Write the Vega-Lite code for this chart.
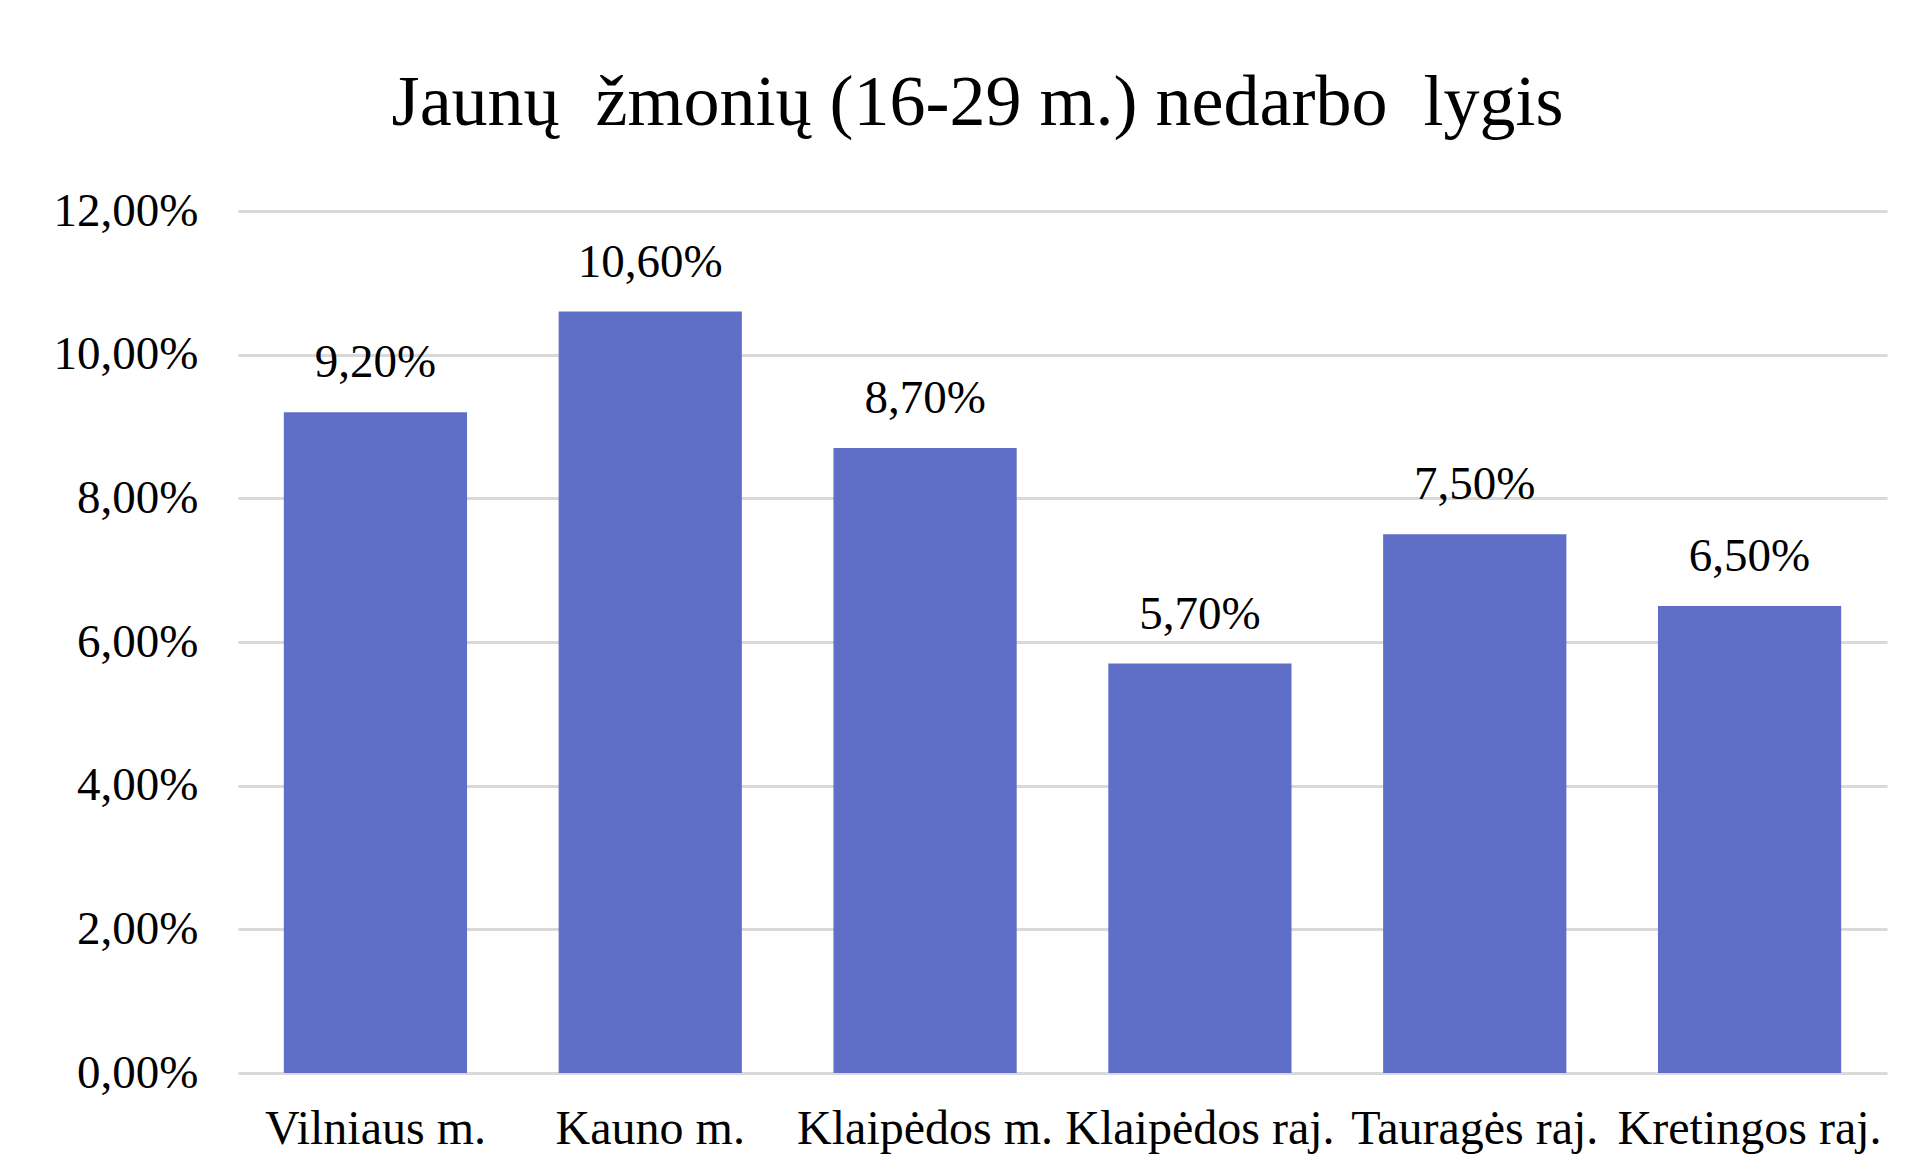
{
  "$schema": "https://vega.github.io/schema/vega-lite/v6.json",
  "autosize": {"type": "none"},
  "padding": {"left": 238, "top": 211, "right": 44, "bottom": 95},
  "width": 1649,
  "height": 862,
  "background": "#ffffff",
  "title": {
    "text": "Jaunų \u00a0žmonių (16-29 m.) nedarbo \u00a0lygis",
    "font": "Liberation Serif",
    "fontSize": 72,
    "fontWeight": "normal",
    "color": "#000000",
    "anchor": "middle",
    "dx": -85,
    "offset": 47
  },
  "config": {
    "locale": {
      "number": {"decimal": ",", "thousands": " ", "grouping": [3], "currency": ["", " €"], "percent": "%"}
    },
    "view": {"stroke": null}
  },
  "data": {
    "values": [
      {"savivaldybe": "Vilniaus m.", "lygis": 0.092},
      {"savivaldybe": "Kauno m.", "lygis": 0.106},
      {"savivaldybe": "Klaipėdos m.", "lygis": 0.087},
      {"savivaldybe": "Klaipėdos raj.", "lygis": 0.057},
      {"savivaldybe": "Tauragės raj.", "lygis": 0.075},
      {"savivaldybe": "Kretingos raj.", "lygis": 0.065}
    ]
  },
  "encoding": {
    "x": {
      "field": "savivaldybe",
      "type": "nominal",
      "sort": null,
      "scale": {"paddingInner": 0.3333, "paddingOuter": 0.1667},
      "axis": {
        "title": null,
        "labelAngle": 0,
        "labelFont": "Liberation Serif",
        "labelFontSize": 48,
        "labelColor": "#000000",
        "labelBaseline": "top",
        "labelPadding": 32,
        "labelLimit": 0,
        "labelOverlap": false,
        "ticks": false,
        "domain": false,
        "grid": false
      }
    },
    "y": {
      "field": "lygis",
      "type": "quantitative",
      "scale": {"domain": [0, 0.12], "nice": false},
      "axis": {
        "title": null,
        "format": ".2%",
        "values": [0, 0.02, 0.04, 0.06, 0.08, 0.1, 0.12],
        "labelFont": "Liberation Serif",
        "labelFontSize": 47,
        "labelColor": "#000000",
        "labelPadding": 40,
        "ticks": false,
        "domain": false,
        "grid": true,
        "gridColor": "#d9d9d9",
        "gridWidth": 3
      }
    }
  },
  "layer": [
    {
      "mark": {"type": "bar", "color": "#5f6fc8"}
    },
    {
      "mark": {
        "type": "text",
        "font": "Liberation Serif",
        "fontSize": 47,
        "color": "#000000",
        "baseline": "alphabetic",
        "dy": -35
      },
      "encoding": {
        "text": {"field": "lygis", "type": "quantitative", "format": ".2%"}
      }
    }
  ]
}
